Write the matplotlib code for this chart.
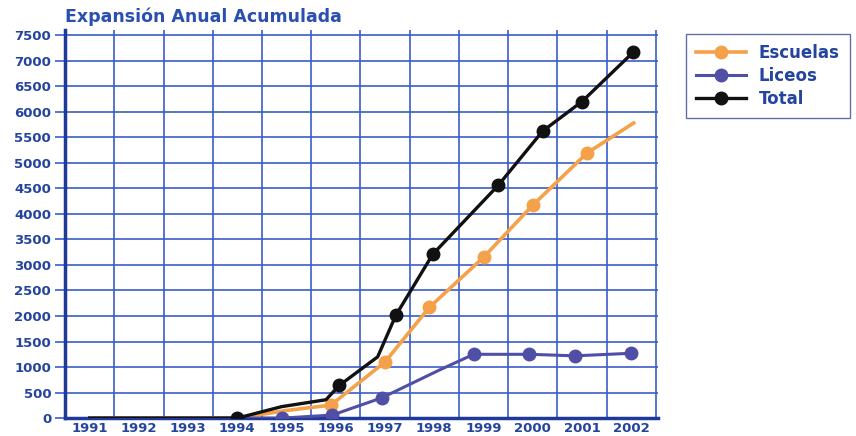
import matplotlib.pyplot as plt

# anios del eje x y etiquetas
years = [1991, 1992, 1993, 1994, 1995, 1996, 1997, 1998, 1999, 2000, 2001, 2002]
y_ticks = list(range(0, 7501, 500))

# Escuelas (posicion x, valor acumulado)
escuelas_x = [1991, 1992, 1993, 1994.0, 1995.0, 1995.9, 1997.0, 1997.9, 1999.0, 2000.0, 2001.1, 2002.05]
escuelas_y = [0, 0, 0, 0, 150, 255, 1100, 2170, 3150, 4170, 5190, 5780]
escuelas_marks = [5, 6, 7, 8, 9, 10]

# Liceos
liceos_x = [1991, 1992, 1993, 1994.0, 1994.9, 1995.93, 1996.94, 1998.1, 1998.8, 1999.93, 2000.86, 2002.0]
liceos_y = [0, 0, 0, 0, 0, 60, 400, 940, 1250, 1250, 1220, 1270]
liceos_marks = [4, 5, 6, 8, 9, 10, 11]

# Total
total_x = [1991, 1992, 1993, 1994.0, 1994.9, 1995.8, 1996.07, 1996.85, 1997.22, 1997.97, 1999.3, 2000.2, 2001.0, 2002.04]
total_y = [0, 0, 0, 0, 225, 360, 640, 1200, 2015, 3210, 4560, 5620, 6200, 7165]
total_marks = [3, 6, 8, 9, 10, 11, 12, 13]

grid_color = '#3a5cc8'
text_color = '#24449e'

fig = plt.figure(figsize=(8.56, 4.36), dpi=100)
ax = fig.add_axes([0.076, 0.041, 0.693, 0.89])

ax.plot(escuelas_x, escuelas_y, color='#f5a149', lw=2.6, marker='o', ms=9,
        markevery=escuelas_marks, label='Escuelas', zorder=3)
ax.plot(liceos_x, liceos_y, color='#4f4fa6', lw=2.2, marker='o', ms=9,
        markevery=liceos_marks, label='Liceos', zorder=4)
ax.plot(total_x, total_y, color='#111111', lw=2.4, marker='o', ms=9,
        markevery=total_marks, label='Total', zorder=5)

ax.set_xlim(1990.5, 2002.55)
ax.set_ylim(0, 7600)
ax.set_yticks(y_ticks)
ax.set_xticks(years)
ax.set_xticks([y + 0.5 for y in range(1990, 2003)], minor=True)

ax.grid(False)
ax.grid(True, which='minor', axis='x', color=grid_color, lw=1.2)
ax.grid(True, which='major', axis='y', color=grid_color, lw=1.2)
ax.set_axisbelow(True)

for s in ['top', 'right']:
    ax.spines[s].set_visible(False)
ax.spines['left'].set_color('#1d3a9a')
ax.spines['left'].set_linewidth(2.5)
ax.spines['bottom'].set_color('#1d3a9a')
ax.spines['bottom'].set_linewidth(2.5)

ax.tick_params(axis='x', which='both', length=0, pad=3, labelsize=9.5, labelcolor=text_color)
ax.tick_params(axis='y', length=7, width=1.2, color=grid_color, pad=3, labelsize=9.5, labelcolor=text_color)
for lbl in ax.get_xticklabels() + ax.get_yticklabels():
    lbl.set_fontweight('bold')

fig.text(0.076, 0.962, 'Expansión Anual Acumulada', color='#2a4fb0', fontsize=12.5,
         fontweight='bold', ha='left', va='center')

leg = fig.legend(loc='upper left', bbox_to_anchor=(0.801, 0.922), frameon=True, fancybox=False,
                 borderaxespad=0, handlelength=3.0, labelspacing=0.3, borderpad=0.6,
                 handletextpad=0.8, prop={'weight': 'bold', 'size': 12})
leg.get_frame().set_edgecolor('#3a4c90')
leg.get_frame().set_linewidth(1.0)
for t in leg.get_texts():
    t.set_color(text_color)

fig.savefig('out.png', dpi=100)
